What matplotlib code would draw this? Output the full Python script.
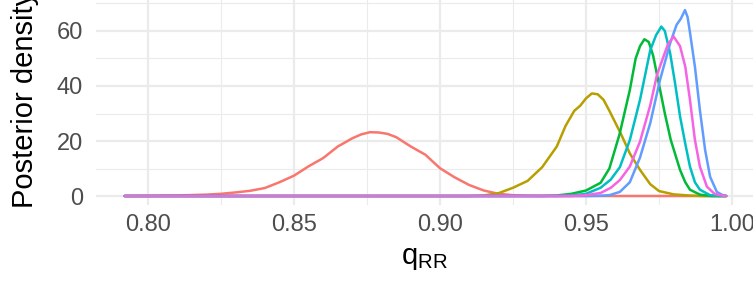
import numpy as np
import matplotlib
matplotlib.use("Agg")
import matplotlib.pyplot as plt

plt.rcParams['font.family'] = ['Liberation Sans', 'DejaVu Sans']
plt.rcParams['mathtext.default'] = 'regular'

# posterior density curves (x = q_RR, y = density)
red_x = [0.792, 0.80, 0.81, 0.82, 0.825, 0.83, 0.835, 0.84, 0.845, 0.85, 0.855, 0.86,
         0.865, 0.87, 0.873, 0.876, 0.879, 0.882, 0.885, 0.89, 0.895, 0.90, 0.905,
         0.91, 0.915, 0.92, 0.925, 0.93, 0.94, 0.998]
red_y = [0.0, 0.05, 0.2, 0.5, 0.8, 1.3, 1.9, 2.9, 5.0, 7.4, 10.8, 13.8,
         18.0, 21.0, 22.4, 23.2, 23.1, 22.6, 21.4, 18.0, 15.0, 10.1, 6.8,
         4.0, 2.0, 0.8, 0.3, 0.1, 0.0, 0.0]

olive_x = [0.792, 0.91, 0.915, 0.92, 0.925, 0.93, 0.935, 0.94, 0.943, 0.946, 0.948,
           0.950, 0.952, 0.954, 0.956, 0.958, 0.962, 0.965, 0.9685, 0.972, 0.975,
           0.98, 0.985, 0.99, 0.998]
olive_y = [0.0, 0.0, 0.2, 1.0, 3.0, 5.5, 10.5, 18.0, 25.5, 31.0, 32.8,
           35.5, 37.3, 37.0, 35.0, 31.0, 22.5, 15.5, 9.5, 4.3, 1.8,
           0.6, 0.2, 0.0, 0.0]

green_x = [0.792, 0.935, 0.94, 0.945, 0.95, 0.955, 0.958, 0.9615, 0.965, 0.967, 0.9685,
           0.970, 0.9715, 0.973, 0.9753, 0.977, 0.979, 0.9822, 0.984, 0.9856, 0.989,
           0.993, 0.998]
green_y = [0.0, 0.0, 0.2, 0.8, 2.0, 4.8, 10.0, 22.5, 38.5, 50.0, 54.5,
           57.0, 56.0, 51.0, 39.0, 30.0, 20.5, 9.5, 5.0, 2.3, 0.5,
           0.0, 0.0]

cyan_x = [0.792, 0.94, 0.945, 0.95, 0.955, 0.9585, 0.9616, 0.965, 0.9685, 0.972, 0.974,
          0.9758, 0.977, 0.9788, 0.9805, 0.9822, 0.984, 0.9856, 0.9873, 0.989, 0.9925,
          0.996, 0.998]
cyan_y = [0.0, 0.0, 0.2, 0.8, 3.0, 6.0, 10.5, 20.3, 35.0, 53.0, 58.5,
          61.6, 60.0, 52.0, 41.0, 29.0, 19.0, 10.7, 5.0, 2.3, 0.3,
          0.0, 0.0]

blue_x = [0.792, 0.95, 0.955, 0.958, 0.9616, 0.965, 0.9685, 0.972, 0.9753, 0.9788, 0.981,
          0.9825, 0.9839, 0.9848, 0.9856, 0.9873, 0.989, 0.9908, 0.9925, 0.9948, 0.997,
          0.998]
blue_y = [0.0, 0.0, 0.1, 0.3, 1.5, 5.0, 14.0, 26.5, 42.0, 55.5, 62.2,
          64.5, 67.6, 65.0, 59.5, 47.0, 31.3, 16.7, 7.0, 1.5, 0.2,
          0.0]

pink_x = [0.792, 0.945, 0.95, 0.955, 0.9585, 0.9616, 0.965, 0.9685, 0.972, 0.9743, 0.9765,
          0.978, 0.980, 0.9822, 0.984, 0.9856, 0.9873, 0.989, 0.9914, 0.994, 0.997,
          0.998]
pink_y = [0.0, 0.0, 0.3, 1.1, 3.0, 5.8, 10.7, 19.8, 33.0, 44.0, 50.6,
          55.0, 58.0, 54.5, 47.0, 35.0, 20.4, 10.7, 3.4, 0.8, 0.1,
          0.0]

curves = [(red_x, red_y, '#F8766D'),
          (olive_x, olive_y, '#B79F00'),
          (green_x, green_y, '#00BA38'),
          (cyan_x, cyan_y, '#00BFC4'),
          (blue_x, blue_y, '#619CFF'),
          (pink_x, pink_y, '#F564E3')]

x_ticks = [0.80, 0.85, 0.90, 0.95, 1.00]
x_labels = ['0.80', '0.85', '0.90', '0.95', '1.00']
y_ticks = [0, 20, 40, 60]

fig = plt.figure(figsize=(7.53, 2.93), dpi=100)
ax = fig.add_axes([95.5 / 753, 88 / 293, 1 - 95.5 / 753, 205 / 293])

for xs, ys, col in curves:
    ax.plot(xs, ys, color=col, lw=1.8, solid_joinstyle='round', solid_capstyle='round')

ax.set_xlim(0.78202, 1.00719)
ax.set_ylim(-3.27, 71.27)
ax.set_xticks(x_ticks)
ax.set_xticklabels(x_labels)
ax.set_yticks(y_ticks)
ax.set_xticks([0.825, 0.875, 0.925, 0.975], minor=True)
ax.set_yticks([10, 30, 50, 70], minor=True)

ax.grid(which='major', color='#EBEBEB', lw=1.6)
ax.grid(which='minor', color='#EBEBEB', lw=0.8)
ax.set_axisbelow(True)
for s in ax.spines.values():
    s.set_visible(False)
ax.tick_params(which='both', length=0)
ax.tick_params(axis='x', pad=6.5, labelsize=17, labelcolor='#4D4D4D')
ax.tick_params(axis='y', pad=9, labelsize=17, labelcolor='#4D4D4D')

ax.set_xlabel('$q_{RR}$', fontsize=21)
ax.set_ylabel('Posterior density', fontsize=21)
ax.xaxis.set_label_coords(0.5, -0.19)
ax.yaxis.set_label_coords(-0.086, 0.515)

fig.savefig('out.png', dpi=100)
